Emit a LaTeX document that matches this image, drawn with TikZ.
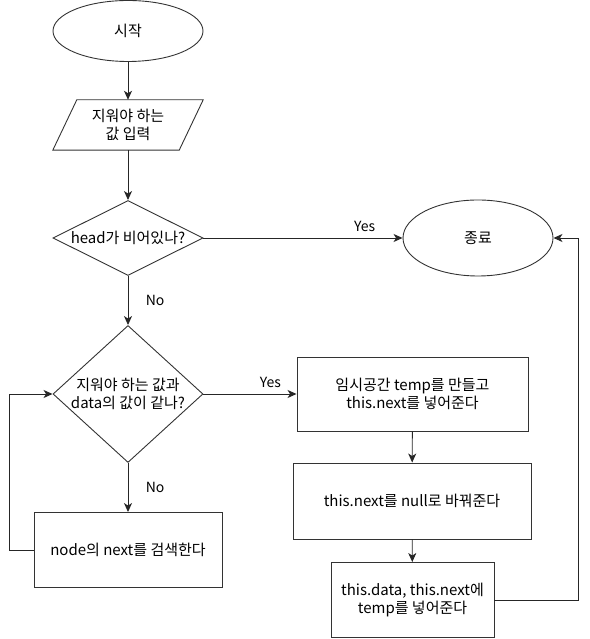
\documentclass[tikz,border=0pt]{standalone}
\usepackage{fontspec}
\newfontfamily\kofont{Noto Sans CJK KR}
\usepackage{tikz}
\usetikzlibrary{arrows.meta, shapes.geometric}
\tikzset{
  txt/.style={font=\kofont\fontsize{15}{18}\selectfont, align=center, text=black},
  terminal/.style={ellipse, draw=black!80, line width=0.9pt, inner sep=0pt},
  iobody/.style={rectangle, draw=none, inner sep=0pt},
  ioedge/.style={draw=black!80, line width=0.9pt, line join=miter},
  decide/.style={diamond, draw=black!80, line width=0.9pt, inner sep=0pt},
  procbox/.style={rectangle, draw=black!80, line width=0.9pt, inner sep=0pt},
  flowline/.style={draw=black!85, line width=0.9pt,
    -{Stealth[length=9pt, width=8pt, inset=2.5pt]}},
  lbl/.style={font=\kofont\fontsize{14}{17}\selectfont, text=black},
}

\begin{document}
\begin{tikzpicture}[x=1pt, y=1pt]

\useasboundingbox (0,0) rectangle (589,639);

%% ─── Terminals ──────────────────────────────────────────────────────────────
\node[terminal, minimum width=150pt, minimum height=61pt] (start) at (128,608) {};
\node[txt] (starttxt) at (start) {시작};
\node[terminal, minimum width=150pt, minimum height=76pt] (finish) at (478,401) {};
\node[txt] (finishtxt) at (finish) {종료};

%% ─── Input (parallelogram) ──────────────────────────────────────────────────
\node[iobody, minimum width=150pt, minimum height=50pt] (input) at (128,514) {};
\draw[ioedge] ([xshift=24pt]input.north west) -- (input.north east)
  -- ([xshift=-24pt]input.south east) -- (input.south west) -- cycle;
\node[txt] (inputtxt) at (input) {지워야 하는\\값 입력};

%% ─── Decisions ──────────────────────────────────────────────────────────────
\node[decide, minimum width=150pt, minimum height=75pt, aspect=2] (isempty) at (128,401) {};
\node[txt] (isemptytxt) at (isempty) {head가 비어있나?};
\node[decide, minimum width=150pt, minimum height=137pt, aspect=1.1] (issame) at (128,245) {};
\node[txt] (issametxt) at (issame) {지워야 하는 값과\\data의 값이 같나?};

%% ─── Processes ──────────────────────────────────────────────────────────────
\node[procbox, minimum width=188pt, minimum height=75pt] (search) at (128,89) {};
\node[txt] (searchtxt) at (search) {node의 next를 검색한다};
\node[procbox, minimum width=231pt, minimum height=74pt] (maketemp) at (412.5,245) {};
\node[txt] (maketemptxt) at (maketemp) {임시공간 temp를 만들고\\this.next를 넣어준다};
\node[procbox, minimum width=238pt, minimum height=76pt] (setnull) at (412,138) {};
\node[txt] (setnulltxt) at (setnull) {this.next를 null로 바꿔준다};
\node[procbox, minimum width=163pt, minimum height=75pt] (puttemp) at (412.5,39) {};
\node[txt] (puttemptxt) at (puttemp) {this.data, this.next에\\temp를 넣어준다};

%% ─── Corner points ──────────────────────────────────────────────────────────
\coordinate (loopL) at (9,89);
\coordinate (loopT) at (9,245);
\coordinate (backB) at (578,39);
\coordinate (backT) at (578,401);

%% ─── Connectors ─────────────────────────────────────────────────────────────
\draw[flowline] (start) -- (input);
\draw[flowline] (input) -- (isempty);
\draw[flowline] (isempty.east) -- (finish.west)
  node[pos=0.81, above=3pt, lbl] (yes1) {Yes};
\draw[flowline] (isempty.south) -- (issame.north)
  node[pos=0.5, right=14pt, lbl] (no1) {No};
\draw[flowline] (issame.east) -- (maketemp.west)
  node[pos=0.72, above=3pt, lbl] (yes2) {Yes};
\draw[flowline] (issame.south) -- (search.north)
  node[pos=0.5, right=14pt, lbl] (no2) {No};
\draw[flowline] (search.west) -- (loopL) -- (loopT) -- (issame.west);
\draw[flowline] (maketemp) -- (setnull);
\draw[flowline] (setnull) -- (puttemp);
\draw[flowline] (puttemp.east) -- (backB) -- (backT) -- (finish.east);

\end{tikzpicture}
\end{document}
